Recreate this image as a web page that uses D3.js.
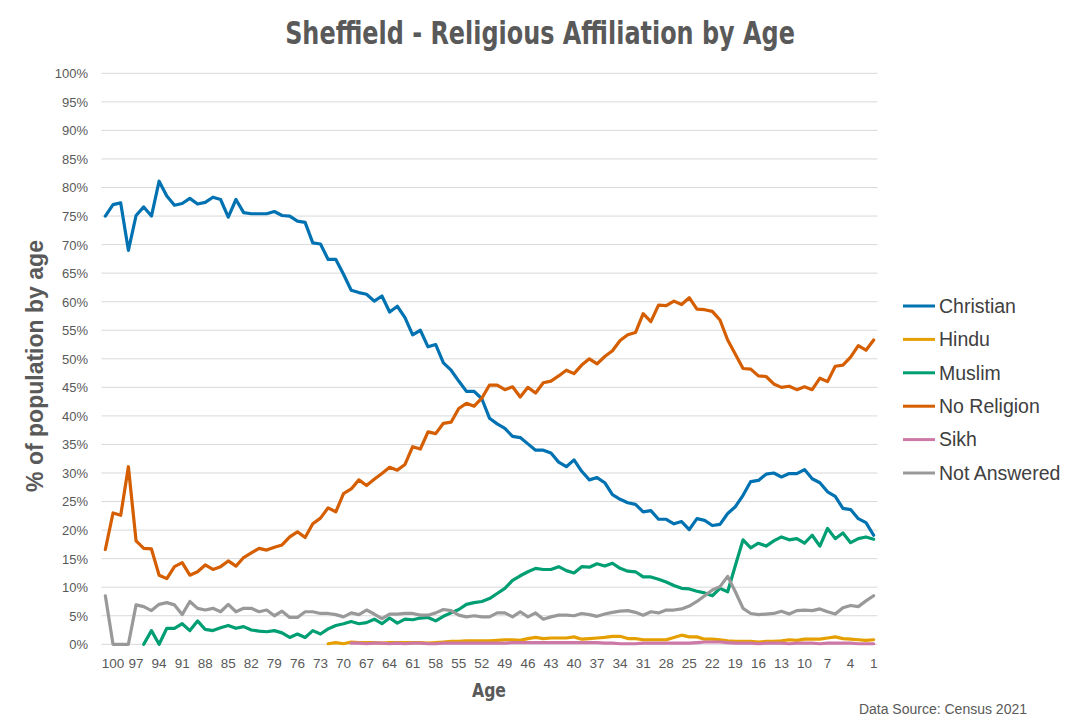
<!DOCTYPE html>
<html><head><meta charset="utf-8">
<script src="https://cdn.jsdelivr.net/npm/d3@7/dist/d3.min.js"></script>
<style>
html,body{margin:0;padding:0;background:#fff;}
svg{display:block;}
</style></head>
<body>
<svg id="chart" width="1080" height="726"></svg>
<script>
// ---- data (percent of population by single year of age, age 101 .. 1) ----
const ages = d3.range(101, 0, -1);
const tickAges = d3.range(100, 0, -3);
const seriesNames = ["Christian", "Hindu", "Muslim", "No Religion", "Sikh", "Not Answered"];
const seriesColors = ["#0072B2", "#E69F00", "#009E73", "#D55E00", "#CC79A7", "#999999"];
const yTicks = d3.range(0, 101, 5);

const christian = [
  75.0,77.0,77.3,69.0,75.1,76.6,75.0,81.1,78.5,76.9,
  77.2,78.1,77.1,77.4,78.3,77.9,74.8,77.9,75.6,75.4,
  75.4,75.4,75.8,75.1,75.0,74.1,73.9,70.3,70.1,67.4,
  67.4,64.8,62.0,61.6,61.3,60.1,61.0,58.2,59.2,57.2,
  54.2,55.0,52.1,52.5,49.3,48.0,46.1,44.3,44.3,43.0,
  39.6,38.6,37.8,36.4,36.2,35.1,34.0,34.0,33.5,31.9,
  31.1,32.3,30.3,28.8,29.2,28.3,26.2,25.4,24.8,24.5,
  23.2,23.4,21.9,21.9,21.1,21.5,20.1,22.0,21.7,20.8,
  21.0,22.9,24.1,26.1,28.5,28.7,29.8,30.0,29.3,29.9,
  29.9,30.6,29.0,28.3,26.7,25.9,23.8,23.6,22.0,21.3,
  19.1];
const hindu = [
  null,null,null,null,null,null,null,null,null,null,
  null,null,null,null,null,null,null,null,null,null,
  null,null,null,null,null,null,null,null,null,0.1,
  0.3,0.1,0.4,0.3,0.3,0.3,0.2,0.3,0.3,0.3,
  0.3,0.3,0.2,0.3,0.4,0.5,0.5,0.6,0.6,0.6,
  0.6,0.7,0.8,0.8,0.7,1.0,1.2,1.0,1.1,1.1,
  1.1,1.3,0.9,1.0,1.1,1.2,1.4,1.4,1.0,1.0,
  0.8,0.8,0.8,0.8,1.2,1.6,1.3,1.3,0.9,0.9,
  0.8,0.6,0.5,0.5,0.5,0.4,0.5,0.5,0.6,0.8,
  0.7,0.9,0.9,0.9,1.1,1.3,1.0,0.9,0.8,0.7,
  0.8];
const muslim = [
  null,null,null,null,null,0.0,2.4,0.0,2.8,2.8,
  3.6,2.4,4.1,2.6,2.4,2.9,3.3,2.8,3.1,2.5,
  2.3,2.2,2.4,2.0,1.2,1.8,1.2,2.4,1.8,2.7,
  3.3,3.6,4.0,3.6,3.8,4.4,3.6,4.6,3.7,4.4,
  4.3,4.6,4.7,4.1,4.9,5.5,6.1,7.0,7.3,7.5,
  8.0,8.9,9.8,11.2,12.0,12.7,13.3,13.1,13.1,13.6,
  12.9,12.5,13.6,13.5,14.1,13.7,14.2,13.3,12.8,12.7,
  11.8,11.8,11.4,10.9,10.3,9.8,9.7,9.3,9.0,8.5,
  9.8,9.2,13.8,18.3,16.9,17.7,17.2,18.1,18.8,18.3,
  18.5,17.7,19.1,17.2,20.3,18.5,19.5,17.8,18.5,18.8,
  18.4];
const noReligion = [
  16.6,23.0,22.6,31.1,18.1,16.8,16.7,12.1,11.5,13.6,
  14.3,12.1,12.7,13.9,13.1,13.6,14.6,13.7,15.2,16.0,
  16.8,16.5,17.0,17.4,18.8,19.7,18.7,21.1,22.1,23.9,
  23.2,26.4,27.2,28.8,27.8,28.9,29.9,31.0,30.5,31.5,
  34.6,34.2,37.2,36.9,38.7,38.9,41.3,42.2,41.7,43.1,
  45.4,45.4,44.6,45.1,43.3,45.0,44.0,45.8,46.1,47.0,
  48.0,47.4,48.9,50.0,49.1,50.4,51.4,53.2,54.2,54.6,
  57.9,56.5,59.4,59.3,60.1,59.5,60.7,58.7,58.6,58.3,
  56.8,53.3,50.8,48.3,48.2,47.0,46.9,45.6,45.0,45.2,
  44.6,45.1,44.6,46.6,46.0,48.7,48.9,50.3,52.3,51.5,
  53.3];
const sikh = [
  null,null,null,null,null,null,null,null,null,null,
  null,null,null,null,null,null,null,null,null,null,
  null,null,null,null,null,null,null,null,null,null,
  null,null,0.2,0.2,0.1,0.2,0.2,0.1,0.2,0.1,
  0.2,0.2,0.1,0.1,0.2,0.2,0.2,0.2,0.2,0.2,
  0.2,0.2,0.2,0.3,0.3,0.3,0.3,0.3,0.3,0.3,
  0.3,0.3,0.3,0.3,0.3,0.2,0.2,0.1,0.1,0.1,
  0.2,0.2,0.2,0.2,0.2,0.2,0.2,0.3,0.4,0.4,
  0.4,0.3,0.2,0.2,0.2,0.1,0.2,0.2,0.2,0.1,
  0.2,0.2,0.2,0.1,0.2,0.2,0.2,0.2,0.1,0.1,
  0.1];
const notAnswered = [
  8.5,0,0,0,6.9,6.6,5.9,7.0,7.3,6.9,
  5.2,7.5,6.3,6.0,6.3,5.7,7.0,5.7,6.3,6.3,
  5.7,6.0,5.0,5.8,4.7,4.7,5.7,5.7,5.4,5.4,
  5.2,4.8,5.5,5.2,6.0,5.3,4.5,5.3,5.3,5.4,
  5.4,5.1,5.1,5.5,6.1,5.9,5.1,4.8,5.0,4.8,
  4.8,5.5,5.5,4.8,5.7,4.8,5.5,4.4,4.8,5.1,
  5.1,5.0,5.4,5.2,4.9,5.3,5.6,5.8,5.9,5.6,
  5.1,5.7,5.5,6.0,6.0,6.2,6.7,7.5,8.5,9.5,
  10.1,11.9,9.2,6.3,5.4,5.2,5.3,5.4,5.8,5.3,
  5.9,6.0,5.9,6.2,5.7,5.3,6.4,6.8,6.6,7.6,
  8.5];

const seriesValues = [christian, hindu, muslim, noReligion, sikh, notAnswered];

// ---- layout ----
const svg = d3.select("#chart");
const plot = {left: 101.5, right: 877.5, top: 73.3, bottom: 644.3};
const textColor = "#595959";

const x = d3.scaleBand().domain(ages).range([plot.left, plot.right]).padding(0);
const xc = a => x(a) + x.bandwidth() / 2;
const y = d3.scaleLinear().domain([0, 100]).range([plot.bottom, plot.top]);

function fitWidth(sel, target) {
  const node = sel.node();
  const fs = parseFloat(sel.attr("font-size"));
  const w = node.getComputedTextLength();
  if (w > 0) sel.attr("font-size", (fs * target / w).toFixed(2));
}
// keep font size (glyph height), squeeze/stretch horizontally to target width
function fitScaleX(sel, target, cx, baseline) {
  const w = sel.node().getComputedTextLength();
  const sx = w > 0 ? target / w : 1;
  sel.attr("x", 0).attr("y", 0)
     .attr("transform", `translate(${cx},${baseline}) scale(${sx.toFixed(4)},1)`);
}

// gridlines
svg.append("g")
  .selectAll("line").data(yTicks).join("line")
  .attr("x1", plot.left).attr("x2", plot.right)
  .attr("y1", d => y(d)).attr("y2", d => y(d))
  .attr("stroke", "#d9d9d9").attr("stroke-width", 1);

// y axis labels
const yAxis = d3.axisLeft(y).tickValues(yTicks).tickFormat(d => d + "%").tickSize(0).tickPadding(0);
const gy = svg.append("g").attr("transform", "translate(88,0)").call(yAxis);
gy.select(".domain").remove();
gy.selectAll("text").attr("font-family", "Liberation Sans, Arial, sans-serif")
  .attr("font-size", 13).attr("fill", textColor).attr("dy", "0.34em").attr("x", 0);

// x axis labels
const xAxis = d3.axisBottom(x).tickValues(tickAges).tickSize(0).tickPadding(0);
const gx = svg.append("g").attr("transform", `translate(0,${plot.bottom})`).call(xAxis);
gx.select(".domain").remove();
gx.selectAll("text").attr("font-family", "Liberation Sans, Arial, sans-serif")
  .attr("font-size", 13.5).attr("fill", textColor).attr("y", 23.5).attr("dy", 0);

// lines
const line = d3.line()
  .defined(d => d.v !== null)
  .x(d => xc(d.age))
  .y(d => y(d.v));

const gLines = svg.append("g");
seriesNames.forEach((name, k) => {
  const data = ages.map((a, i) => ({age: a, v: seriesValues[k][i]}));
  gLines.append("path")
    .datum(data)
    .attr("d", line)
    .attr("fill", "none")
    .attr("stroke", seriesColors[k])
    .attr("stroke-width", 3.2)
    .attr("stroke-linejoin", "round")
    .attr("stroke-linecap", "round");
});

// title
const title = svg.append("text")
  .attr("text-anchor", "middle")
  .attr("font-family", "Liberation Sans Narrow, DejaVu Sans Condensed, Arial Narrow, sans-serif")
  .attr("font-weight", "bold").attr("font-size", 31.5)
  .attr("fill", textColor)
  .text("Sheffield - Religious Affiliation by Age");
fitScaleX(title, 510, 540, 43.5);

// y axis title
const yTitle = svg.append("text")
  .attr("transform", "translate(43,366) rotate(-90)")
  .attr("text-anchor", "middle")
  .attr("font-family", "Liberation Sans, Arial, sans-serif")
  .attr("font-weight", "bold").attr("font-size", 20)
  .attr("fill", textColor)
  .text("% of population by age");
fitWidth(yTitle, 252);

// x axis title
const xTitle = svg.append("text")
  .attr("text-anchor", "middle")
  .attr("font-family", "Liberation Sans Narrow, DejaVu Sans Condensed, sans-serif")
  .attr("font-weight", "bold").attr("font-size", 20)
  .attr("fill", textColor)
  .text("Age");
fitScaleX(xTitle, 34, 489, 697);

// legend
const legY = d3.scalePoint().domain(seriesNames).range([306, 473]);
const leg = svg.append("g").selectAll("g").data(seriesNames).join("g")
  .attr("transform", d => `translate(903,${legY(d)})`);
leg.append("line").attr("x1", 0).attr("x2", 32).attr("y1", 0).attr("y2", 0)
  .attr("stroke", (d, i) => seriesColors[i]).attr("stroke-width", 3);
leg.append("text").attr("x", 36).attr("y", 0).attr("dy", "0.35em")
  .attr("font-family", "Liberation Sans, Arial, sans-serif")
  .attr("font-size", 19.5).attr("fill", "#404040")
  .text(d => d);

// footer
svg.append("text")
  .attr("x", 1027).attr("y", 714)
  .attr("text-anchor", "end")
  .attr("font-family", "Liberation Sans, Arial, sans-serif")
  .attr("font-size", 14).attr("fill", textColor)
  .text("Data Source: Census 2021");
</script>
</body></html>
